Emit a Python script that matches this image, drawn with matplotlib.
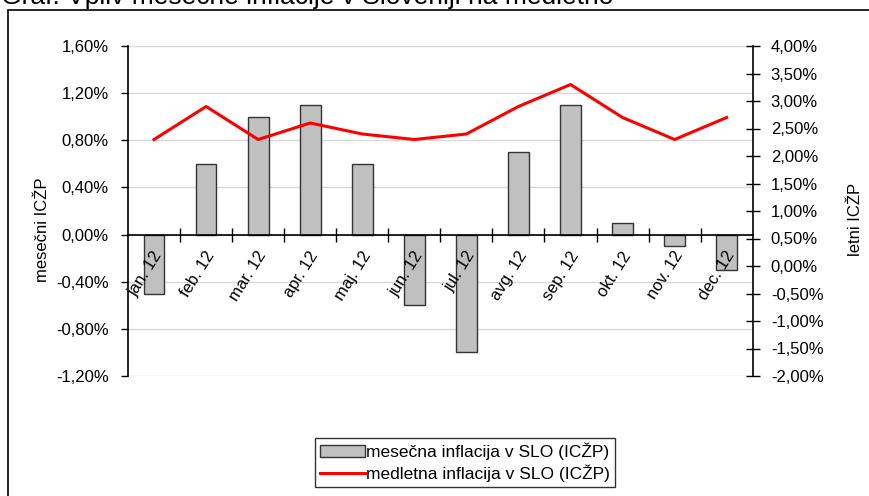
import numpy as np
import matplotlib
matplotlib.use('Agg')
import matplotlib.pyplot as plt
import matplotlib.transforms as mtransforms
from matplotlib.patches import Rectangle
from matplotlib.ticker import FuncFormatter, FixedLocator

plt.rcParams['font.family'] = ['Liberation Sans', 'DejaVu Sans']
plt.rcParams['font.size'] = 12

# data (monthly and year-on-year CPI, Slovenia 2012)
months = ['jan. 12', 'feb. 12', 'mar. 12', 'apr. 12', 'maj. 12', 'jun. 12',
          'jul. 12', 'avg. 12', 'sep. 12', 'okt. 12', 'nov. 12', 'dec. 12']
monthly = [-0.5, 0.6, 1.0, 1.1, 0.6, -0.6, -1.0, 0.7, 1.1, 0.1, -0.1, -0.3]
yearly = [2.3, 2.9, 2.3, 2.6, 2.4, 2.3, 2.4, 2.9, 3.3, 2.7, 2.3, 2.7]

left_ticks = [-1.2, -0.8, -0.4, 0.0, 0.4, 0.8, 1.2, 1.6]
right_ticks = [-2.0, -1.5, -1.0, -0.5, 0.0, 0.5, 1.0, 1.5, 2.0, 2.5, 3.0, 3.5, 4.0]

W, H = 869, 496
fig = plt.figure(figsize=(W / 100, H / 100), dpi=100)
ax = fig.add_axes([128 / W, 1 - 376 / H, (752.7 - 128) / W, (376 - 46) / H])
ax2 = ax.twinx()

x = np.arange(len(months))

# outer chart frame
fig.patches.append(Rectangle((8 / W, -0.05), 1.2, 1 - 10 / H + 0.05,
                             transform=fig.transFigure, fill=False,
                             edgecolor='black', linewidth=1.2))

# title (cut off at top in the original)
fig.text(1 / W, 1 - 4 / H, 'Graf: Vpliv mesečne inflacije v Sloveniji na medletno',
         fontsize=19, va='baseline', ha='left')

# gridlines
for t in left_ticks:
    ax.axhline(t, color='#d9d9d9', linewidth=1, zorder=0)

bars = ax.bar(x, monthly, width=0.4, color='#c0c0c0', edgecolor='#333333',
              linewidth=1, zorder=2, label='mesečna inflacija v SLO (ICŽP)')

line, = ax2.plot(x, yearly, color='red', linewidth=2.2, zorder=3,
                 label='medletna inflacija v SLO (ICŽP)')

pct = FuncFormatter(lambda v, p: f'{v:.2f}%'.replace('.', ','))

ax.set_xlim(-0.5, len(months) - 0.5)
ax.set_ylim(-1.2, 1.6)
ax.set_yticks(left_ticks)
ax.yaxis.set_major_formatter(pct)
ax2.set_ylim(-2.0, 4.0)
ax2.set_yticks(right_ticks)
ax2.yaxis.set_major_formatter(pct)

for s in ['top', 'right']:
    ax.spines[s].set_visible(False)
ax.spines['bottom'].set_position(('data', 0))
for s in ['top', 'left', 'bottom']:
    ax2.spines[s].set_visible(False)
ax.spines['left'].set_linewidth(1.2)
ax.spines['bottom'].set_linewidth(1.2)
ax2.spines['right'].set_linewidth(1.2)
ax.set_axisbelow(False)

ax.set_xticks(x)
ax.set_xticklabels(months, rotation=58, ha='right', va='center',
                   rotation_mode='anchor')
ax.tick_params(axis='x', which='major', length=0, pad=13)
shift = mtransforms.ScaledTranslation(5 / 100, 0, fig.dpi_scale_trans)
for lbl in ax.get_xticklabels():
    lbl.set_transform(lbl.get_transform() + shift)
ax.xaxis.set_minor_locator(FixedLocator(np.arange(0.5, len(months) - 0.5, 1)))
ax.tick_params(axis='x', which='minor', direction='inout', length=10, width=1)
ax.tick_params(axis='y', direction='out', length=5, width=1, pad=9)
ax2.tick_params(axis='y', direction='inout', length=10, width=1, pad=8)

ax.set_ylabel('mesečni ICŽP')
ax.yaxis.set_label_coords(-0.125, 0.442)
ax2.set_ylabel('letni ICŽP')
ax2.yaxis.set_label_coords(1.1526, 0.473)

leg = fig.legend(handles=[bars, line], loc='center', fontsize=12.5,
                 bbox_to_anchor=(465 / W, 1 - 462.5 / H), frameon=True,
                 fancybox=False, edgecolor='black', handlelength=2.6,
                 handletextpad=0.1, borderpad=0.25, labelspacing=0.25)
leg.get_frame().set_linewidth(1)

fig.savefig('out.png', dpi=100)
